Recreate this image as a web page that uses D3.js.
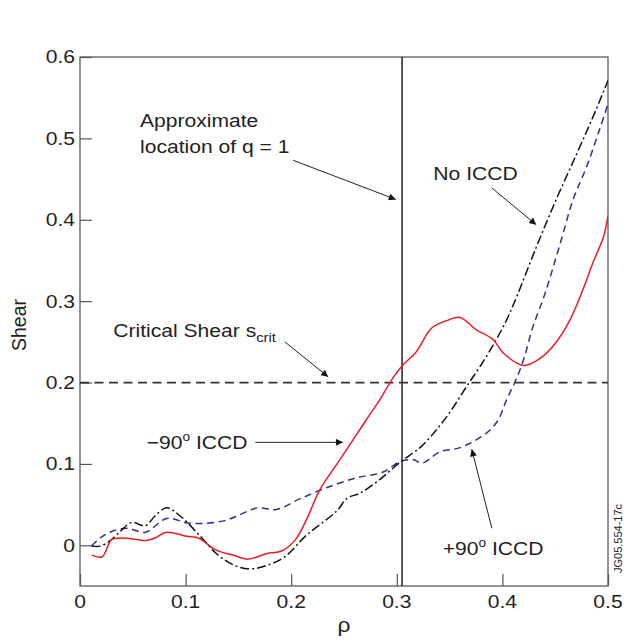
<!DOCTYPE html>
<html><head><meta charset="utf-8">
<script src="https://cdn.jsdelivr.net/npm/d3@7"></script>
<style>body{margin:0;background:#fff}svg{display:block}</style>
</head><body>
<script>
// ---- data ----
const xTicks = [0, 0.1, 0.2, 0.3, 0.4, 0.5];
const yTicks = [0, 0.1, 0.2, 0.3, 0.4, 0.5, 0.6];
const xTickLabels = ["0", "0.1", "0.2", "0.3", "0.4", "0.5"];
const yTickLabels = ["0", "0.1", "0.2", "0.3", "0.4", "0.5", "0.6"];

const rhoNo = [0.011,0.019,0.028,0.038,0.049,0.062,0.071,0.082,0.095,0.114,0.129,0.145,0.161,0.176,0.193,0.215,0.243,0.253,0.265,0.284,0.303,0.322,0.335,0.350,0.368,0.379,0.393,0.404,0.414,0.432,0.451,0.470,0.486,0.500];
const shearNo = [-0.001,-0.001,0.005,0.017,0.028,0.024,0.036,0.046,0.036,0.011,-0.010,-0.024,-0.029,-0.025,-0.015,0.013,0.042,0.058,0.064,0.081,0.102,0.120,0.138,0.163,0.199,0.220,0.250,0.277,0.307,0.366,0.425,0.480,0.527,0.571];

const rhoMinus = [0.011,0.021,0.030,0.041,0.063,0.071,0.082,0.101,0.112,0.129,0.145,0.159,0.177,0.191,0.204,0.215,0.227,0.246,0.271,0.284,0.297,0.306,0.318,0.333,0.347,0.360,0.375,0.391,0.401,0.420,0.436,0.450,0.464,0.475,0.486,0.496,0.500];
const shearMinus = [-0.012,-0.014,0.007,0.009,0.006,0.009,0.016,0.011,0.009,-0.006,-0.012,-0.017,-0.010,-0.007,0.007,0.033,0.068,0.105,0.154,0.179,0.207,0.222,0.237,0.267,0.276,0.280,0.265,0.253,0.236,0.221,0.230,0.248,0.277,0.310,0.348,0.380,0.405];

const rhoPlus = [0.011,0.019,0.030,0.044,0.062,0.082,0.104,0.136,0.152,0.168,0.186,0.208,0.234,0.262,0.287,0.303,0.316,0.324,0.341,0.360,0.385,0.396,0.404,0.412,0.420,0.429,0.440,0.455,0.467,0.480,0.492,0.500];
const shearPlus = [-0.001,0.009,0.017,0.021,0.016,0.033,0.027,0.030,0.038,0.046,0.044,0.057,0.071,0.083,0.090,0.103,0.105,0.101,0.115,0.120,0.138,0.154,0.179,0.201,0.228,0.269,0.308,0.372,0.425,0.466,0.511,0.542];

const sCrit = 0.2;
const qOneRho = 0.305;

// ---- setup ----
const W = 624, H = 644;
const L = 80, R = 608, T = 57, B = 586;
const SX = 1.14;
const FONT = "'Liberation Sans', Arial, Helvetica, sans-serif";

const svg = d3.select("body").append("svg").attr("width", W).attr("height", H);
const x = d3.scaleLinear().domain([0, 0.5]).range([L, R]);
const y = d3.scaleLinear().domain([-0.05, 0.6]).range([B, T]);

const defs = svg.append("defs");
defs.append("clipPath").attr("id", "clip").append("rect")
  .attr("x", L).attr("y", T).attr("width", R - L).attr("height", B - T);
defs.append("marker").attr("id", "arr").attr("viewBox", "0 0 10 10")
  .attr("refX", 10).attr("refY", 5).attr("markerWidth", 9).attr("markerHeight", 7)
  .attr("markerUnits", "userSpaceOnUse").attr("orient", "auto")
  .append("path").attr("d", "M0,0 L10,5 L0,10 Z").attr("fill", "#111");

function label(px, py, anchor, size) {
  return svg.append("text")
    .attr("transform", `translate(${px},${py}) scale(${SX},1)`)
    .attr("text-anchor", anchor)
    .attr("font-family", FONT).attr("font-size", size).attr("fill", "#222");
}

// axes ticks (inside)
svg.append("g").attr("transform", `translate(0,${B})`)
  .call(d3.axisBottom(x).tickValues(xTicks).tickSize(-12).tickFormat(""))
  .call(g => g.select(".domain").remove())
  .selectAll("line").attr("stroke", "#555").attr("stroke-width", 1.2);
svg.append("g").attr("transform", `translate(${L},0)`)
  .call(d3.axisLeft(y).tickValues(yTicks).tickSize(-12).tickFormat(""))
  .call(g => g.select(".domain").remove())
  .selectAll("line").attr("stroke", "#555").attr("stroke-width", 1.2);

svg.append("rect").attr("x", L).attr("y", T).attr("width", R - L).attr("height", B - T)
  .attr("fill", "none").attr("stroke", "#5a5a5a").attr("stroke-width", 1.3);

xTicks.forEach((v, i) => label(x(v), 608, "middle", 18.5).text(xTickLabels[i]));
yTicks.forEach((v, i) => label(75, y(v), "end", 18.5).attr("dy", "0.35em").text(yTickLabels[i]));

svg.append("text").attr("transform", "translate(26,325) rotate(-90)")
  .attr("text-anchor", "middle").attr("font-family", FONT).attr("font-size", 19.5)
  .attr("fill", "#222").text("Shear");
label(344, 632, "middle", 20).text("ρ");

// reference lines
svg.append("line").attr("x1", x(0)).attr("x2", x(0.5)).attr("y1", y(sCrit)).attr("y2", y(sCrit))
  .attr("stroke", "#333").attr("stroke-width", 1.8).attr("stroke-dasharray", "9,5.5");
svg.append("line").attr("x1", x(qOneRho)).attr("x2", x(qOneRho)).attr("y1", y(0.6)).attr("y2", y(-0.05))
  .attr("stroke", "#222").attr("stroke-width", 1.5);

// curves
const line = d3.line().curve(d3.curveCatmullRom.alpha(0.5)).x(d => x(d[0])).y(d => y(d[1]));
const series = [
  {rho: rhoPlus, s: shearPlus, color: "#2e3192", dash: "7,4.5"},
  {rho: rhoNo, s: shearNo, color: "#111", dash: "9,3,2,3"},
  {rho: rhoMinus, s: shearMinus, color: "#ed1c24", dash: null}
];
const cg = svg.append("g").attr("clip-path", "url(#clip)");
series.forEach(sr => {
  cg.append("path").datum(d3.zip(sr.rho, sr.s)).attr("d", line)
    .attr("fill", "none").attr("stroke", sr.color).attr("stroke-width", 1.5)
    .attr("stroke-dasharray", sr.dash);
});

// annotations (data coordinates)
function arrow(r1, s1, r2, s2) {
  svg.append("line").attr("x1", x(r1)).attr("y1", y(s1)).attr("x2", x(r2)).attr("y2", y(s2))
    .attr("stroke", "#222").attr("stroke-width", 1).attr("marker-end", "url(#arr)");
}
label(x(0.0568), y(0.5136), "start", 18.5).text("Approximate");
label(x(0.0568), y(0.4817), "start", 18.5).text("location of q = 1");
arrow(0.202, 0.473, 0.299, 0.425);

label(x(0.3346), y(0.4488), "start", 18.5).text("No ICCD");
arrow(0.390, 0.439, 0.432, 0.394);

const cs = label(x(0.0315), y(0.2563), "start", 18.5);
cs.append("tspan").text("Critical Shear s");
cs.append("tspan").attr("font-size", 13).attr("dy", 5).text("crit");
arrow(0.194, 0.250, 0.235, 0.207);

const m90 = label(x(0.0632), y(0.118), "start", 18.5);
m90.append("tspan").text("−90");
m90.append("tspan").attr("font-size", 12).attr("dy", -8).text("o");
m90.append("tspan").attr("dy", 8).text(" ICCD");
arrow(0.166, 0.1265, 0.249, 0.1265);

const p90 = label(x(0.3435), y(-0.012), "start", 18.5);
p90.append("tspan").text("+90");
p90.append("tspan").attr("font-size", 12).attr("dy", -8).text("o");
p90.append("tspan").attr("dy", 8).text(" ICCD");
arrow(0.390, 0.021, 0.371, 0.118);

svg.append("text").attr("transform", "translate(622,573) rotate(-90)")
  .attr("text-anchor", "start").attr("font-family", FONT).attr("font-size", 11)
  .attr("fill", "#222").text("JG05.554-17c");
</script>
</body></html>
